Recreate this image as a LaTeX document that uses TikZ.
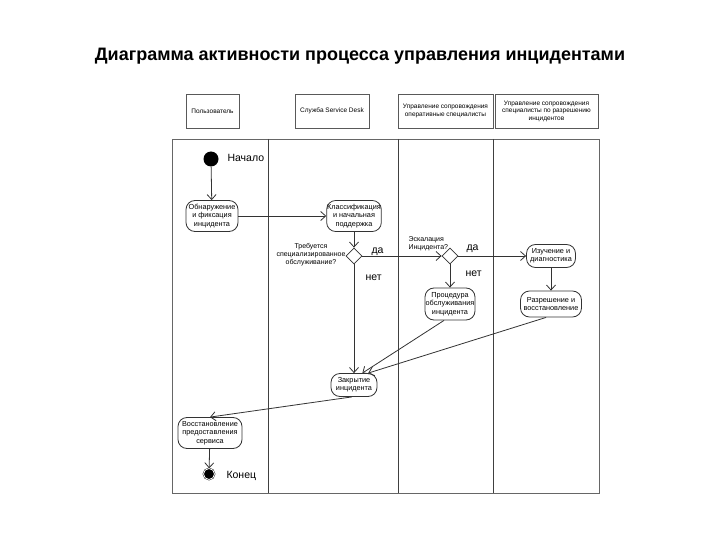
\documentclass[tikz,border=0pt]{standalone}
\usepackage{fontspec}
\setmainfont{Liberation Sans}
\usetikzlibrary{shapes.geometric,arrows.meta}

\begin{document}
\begin{tikzpicture}[
    x=1pt, y=-1pt,
    lanehead/.style={
      rectangle, draw=gray!70!black, line width=0.8pt,
      minimum height=34pt, inner sep=1pt, align=center,
      font=\fontsize{6.5}{7.5}\selectfont
    },
    activity/.style={
      rectangle, draw=black!80, line width=0.8pt, rounded corners=9pt,
      inner sep=0.5pt, align=center, font=\fontsize{7.3}{8.3}\selectfont
    },
    decision/.style={
      diamond, draw=black!80, line width=0.8pt,
      minimum size=16pt, inner sep=0pt
    },
    startnode/.style={circle, fill=black, minimum size=15pt, inner sep=0pt},
    endnode/.style={
      circle, fill=black, draw=black, double=white, double distance=0.8pt,
      minimum size=11pt, inner sep=0pt
    },
    bigtext/.style={font=\fontsize{10.5}{12}\selectfont},
    smalltext/.style={font=\fontsize{7}{8}\selectfont},
    frame/.style={draw=gray!80!black, line width=0.9pt},
    flow/.style={draw=black!80, line width=0.8pt,
      -{Straight Barb[length=5pt,width=9pt]}},
]
\useasboundingbox (0,0) rectangle (720,540);

% ===== TITLE =====
\node[font=\fontsize{18}{22}\selectfont\bfseries] (title) at (360,56)
  {Диаграмма активности процесса управления инцидентами};

% ===== LANE HEADERS =====
\node[lanehead, minimum width=53pt] (huser) at (212.5,111) {Пользователь};
\node[lanehead, minimum width=74pt] (hdesk) at (332,111) {Служба Service Desk};
\node[lanehead, minimum width=95pt] (hoper) at (445.5,111)
  {Управление сопровождения\\оперативные специалисты};
\node[lanehead, minimum width=103pt] (hspec) at (546.5,111)
  {Управление сопровождения\\специалисты по разрешению\\инцидентов};

% ===== SWIMLANES =====
\draw[frame] (172,139) rectangle (599,493);
\draw[frame, draw=black!75] (268,139) -- (268,493);
\draw[frame, draw=black!75] (398,139) -- (398,493);
\draw[frame, draw=black!75] (493,139) -- (493,493);

% ===== ACTIVITIES =====
\node[startnode] (start) at (211,159) {};
\node[bigtext, anchor=west] (startlbl) at (224,158) {Начало};

\node[activity, minimum width=52pt, minimum height=31pt] (detect) at (212,216)
  {Обнаружение\\и фиксация\\инцидента};
\node[activity, minimum width=54pt, minimum height=31pt] (classify) at (354,216)
  {Классификация\\и начальная\\поддержка};

\node[decision] (needspec) at (354,256) {};
\node[smalltext, align=center] (needspeclbl) at (311,255)
  {Требуется\\специализированное\\обслуживание?};
\node[bigtext, anchor=base west] (yes1) at (368,253) {да};
\node[bigtext, anchor=base west] (no1) at (362,280) {нет};

\node[decision] (escal) at (450,256) {};
\node[smalltext, align=left, anchor=west] (escallbl) at (405,244)
  {Эскалация\\Инцидента?};
\node[bigtext, anchor=base west] (yes2) at (463,251) {да};
\node[bigtext, anchor=base west] (no2) at (462,276) {нет};

\node[activity, minimum width=50pt, minimum height=32pt] (proc) at (450,304)
  {Процедура\\обслуживания\\инцидента};
\node[activity, minimum width=49pt, minimum height=23pt] (study) at (551,256)
  {Изучение и\\диагностика};
\node[activity, minimum width=61pt, minimum height=26pt] (resolve) at (551,304)
  {Разрешение и\\восстановление};

\node[activity, minimum width=46pt, minimum height=23pt] (close) at (354,385)
  {Закрытие\\инцидента};
\node[activity, minimum width=64pt, minimum height=31pt] (restore) at (210,433)
  {Восстановление\\предоставления\\сервиса};

\node[endnode] (finish) at (209,474) {};
\node[bigtext, anchor=west] (endlbl) at (223,476) {Конец};

% ===== FLOWS =====
\draw[flow] (start) -- (detect);
\draw[flow] (detect) -- (classify);
\draw[flow] (classify) -- (needspec);
\draw[flow] (needspec) -- (escal);
\draw[flow] (escal) -- (study);
\draw[flow] (escal) -- (proc);
\draw[flow] (study) -- (resolve);
\draw[flow] (needspec) -- (close);
\draw[flow] (proc.250) -- (close.55);
\draw[flow] (resolve.250) -- (close.40);
\draw[flow] (close.260) -- (restore.north);
\draw[flow] (restore) -- (finish);

\end{tikzpicture}
\end{document}
